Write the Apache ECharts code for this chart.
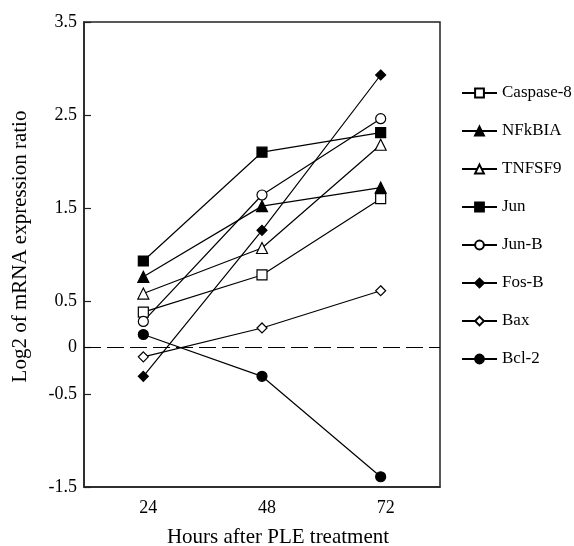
<!DOCTYPE html>
<html>
<head>
<meta charset="utf-8">
<script src="https://cdn.jsdelivr.net/npm/echarts@6/dist/echarts.min.js"></script>
<style>
  html, body { margin: 0; padding: 0; background: #fff; }
  #chart { width: 574px; height: 546px; }
</style>
</head>
<body>
<div id="chart"></div>
<script>
// =====================
// 数据
// =====================

const hours = [24, 48, 72];
const yTicks = [-1.5, -0.5, 0, 0.5, 1.5, 2.5, 3.5];
const zeroLine = [[12, 0], [84, 0]];

const caspase8 = [0.38, 0.78, 1.6];
const nfkbia = [0.76, 1.52, 1.72];
const tnfsf9 = [0.58, 1.07, 2.18];
const jun = [0.93, 2.1, 2.31];
const junB = [0.28, 1.64, 2.46];
const fosB = [-0.31, 1.26, 2.93];
const bax = [-0.1, 0.21, 0.61];
const bcl2 = [0.14, -0.31, -1.39];

const FONT = "Liberation Serif";

// =====================
// 系列
// =====================

function makeSeries(name, values, symbol, filled, size) {
  return {
    name: name,
    type: "line",
    data: hours.map((h, i) => [h, values[i]]),
    symbol: symbol,
    symbolSize: size,
    showAllSymbol: true,
    lineStyle: { color: "#000", width: 1.2 },
    itemStyle: {
      color: filled ? "#000" : "#fff",
      borderColor: "#000",
      borderWidth: 1.2,
    },
    z: filled ? 3 : 2,
  };
}

const series = [
  makeSeries("Caspase-8", caspase8, "rect", false, 10),
  makeSeries("NFkBIA", nfkbia, "triangle", true, 11),
  makeSeries("TNFSF9", tnfsf9, "triangle", false, 11),
  makeSeries("Jun", jun, "rect", true, 10),
  makeSeries("Jun-B", junB, "circle", false, 10),
  makeSeries("Fos-B", fosB, "diamond", true, 10),
  makeSeries("Bax", bax, "diamond", false, 10),
  makeSeries("Bcl-2", bcl2, "circle", true, 10),
];

// 零线
series.push({
  name: "zero",
  type: "line",
  data: zeroLine,
  symbol: "none",
  silent: true,
  lineStyle: { color: "#000", width: 1.2, type: [17, 6] },
  z: 1,
});

// =====================
// 初始化
// =====================

window.addEventListener("load", () => {
  const chart = echarts.init(document.getElementById("chart"));

  chart.setOption({
    animation: false,
    backgroundColor: "#fff",

    grid: {
      left: 84,
      right: 134,
      top: 22,
      bottom: 59,
      outerBoundsMode: "none",
    },

    legend: {
      orient: "vertical",
      left: 456,
      top: 78,
      itemWidth: 35,
      itemHeight: 11,
      itemGap: 18,
      textStyle: { fontFamily: FONT, fontSize: 17, color: "#000", lineHeight: 20 },
      data: series.slice(0, 8).map((s) => s.name),
    },

    xAxis: {
      type: "value",
      min: 12,
      max: 84,
      name: "Hours after PLE treatment",
      nameLocation: "middle",
      nameGap: 40,
      nameTextStyle: {
        fontFamily: FONT,
        fontSize: 21,
        color: "#000",
        padding: [0, 0, 0, 32],
      },
      axisLine: { show: true, onZero: false, lineStyle: { color: "#222", width: 1.5 } },
      axisTick: { show: false },
      splitLine: { show: false },
      axisLabel: {
        customValues: hours,
        margin: 12,
        padding: [0, 0, 0, 10],
        fontFamily: FONT,
        fontSize: 18,
        color: "#000",
      },
    },

    yAxis: {
      type: "value",
      min: -1.5,
      max: 3.5,
      name: "Log2 of mRNA expression ratio",
      nameLocation: "middle",
      nameGap: 53,
      nameTextStyle: {
        fontFamily: FONT,
        fontSize: 21,
        color: "#000",
        padding: [0, 0, 0, 16],
      },
      axisLine: { show: true, onZero: false, lineStyle: { color: "#222", width: 1.5 } },
      axisTick: {
        show: true,
        inside: true,
        length: 7,
        customValues: yTicks,
        lineStyle: { color: "#222", width: 1.2 },
      },
      splitLine: { show: false },
      axisLabel: {
        customValues: yTicks,
        margin: 7,
        fontFamily: FONT,
        fontSize: 18,
        color: "#000",
      },
    },

    series: series,
  });

  // 边框
  const tl = chart.convertToPixel({ gridIndex: 0 }, [12, 3.5]);
  const br = chart.convertToPixel({ gridIndex: 0 }, [84, -1.5]);
  chart.setOption({
    graphic: [
      {
        type: "rect",
        shape: { x: tl[0], y: tl[1], width: br[0] - tl[0], height: br[1] - tl[1] },
        style: { fill: null, stroke: "#222", lineWidth: 1.5 },
        silent: true,
        z: 0,
      },
    ],
  });
});
</script>
</body>
</html>
